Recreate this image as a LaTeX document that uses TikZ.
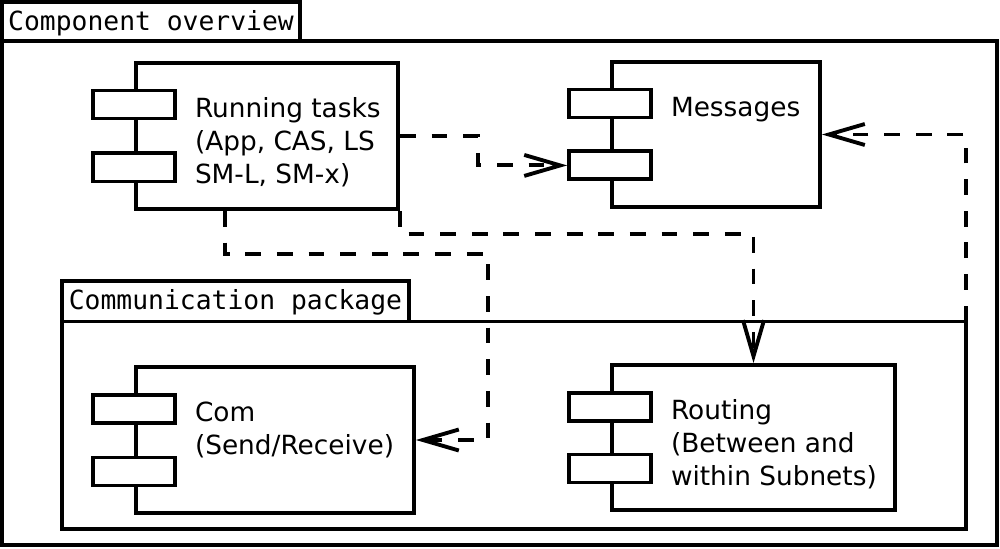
\documentclass[tikz,border=0pt]{standalone}
\usepackage{fontspec}
\setmainfont{DejaVu Sans}
\setmonofont{DejaVu Sans Mono}
\usepackage{tikz}
\usetikzlibrary{positioning,calc,arrows.meta}

\begin{document}
\begin{tikzpicture}[
    line width=2.2pt,
    frame/.style={draw, inner sep=0pt, outer sep=0pt},
    tab/.style={draw, anchor=south west, inner xsep=0pt, inner ysep=4pt, outer sep=0pt,
        text height=12pt, text depth=2pt,
        font=\ttfamily\fontsize{15}{18}\selectfont},
    compbox/.style={draw, inner sep=0pt},
    plug/.style={draw, fill=white, inner sep=0pt, minimum width=1.64cm, minimum height=0.56cm},
    comptext/.style={anchor=north west, align=left, inner sep=0pt,
        font=\fontsize{15}{18.8}\selectfont},
    dep/.style={dash pattern=on 9pt off 9pt, -{Straight Barb[length=0.72cm, width=0.42cm]}}
]
    \useasboundingbox (0,0) rectangle (20,10.96);

    % outer frame
    \node[frame, minimum width=19.9cm, minimum height=10.08cm] (overview) at (9.99,5.10) {};
    \node[tab, minimum width=5.96cm] (overviewtab) at (overview.north west) {Component overview};

    % inner package
    \node[frame, minimum width=18.08cm, minimum height=4.15cm] (commpkg) at (10.28,2.455) {};
    \node[tab, minimum width=6.94cm, inner ysep=4.6pt] (commpkgtab) at (commpkg.north west) {Communication package};

    % components
    \node[compbox, minimum width=5.24cm, minimum height=2.92cm] (tasks) at (5.34,8.24) {};
    \node[plug] (tasksA) at ($(tasks.north west)+(0,-0.87)$) {};
    \node[plug] (tasksB) at ($(tasks.south west)+(0,0.87)$) {};
    \node[comptext] (tasksT) at ($(tasks.north west)+(1.18,-0.62)$) {\strut Running tasks\\(App, CAS, LS\\SM-L, SM-x)};

    \node[compbox, minimum width=4.16cm, minimum height=2.9cm] (msgs) at (14.32,8.27) {};
    \node[plug] (msgsA) at ($(msgs.north west)+(0,-0.87)$) {};
    \node[plug] (msgsB) at ($(msgs.south west)+(0,0.87)$) {};
    \node[comptext] (msgsT) at ($(msgs.north west)+(1.18,-0.62)$) {\strut Messages};

    \node[compbox, minimum width=5.56cm, minimum height=2.92cm] (com) at (5.5,2.16) {};
    \node[plug] (comA) at ($(com.north west)+(0,-0.87)$) {};
    \node[plug] (comB) at ($(com.south west)+(0,0.87)$) {};
    \node[comptext] (comT) at ($(com.north west)+(1.18,-0.62)$) {\strut Com\\(Send/Receive)};

    \node[compbox, minimum width=5.66cm, minimum height=2.9cm] (routing) at (15.07,2.21) {};
    \node[plug] (routingA) at ($(routing.north west)+(0,-0.87)$) {};
    \node[plug] (routingB) at ($(routing.south west)+(0,0.87)$) {};
    \node[comptext] (routingT) at ($(routing.north west)+(1.18,-0.62)$) {\strut Routing\\(Between and\\within Subnets)};

    % dependencies
    \draw[dep] (tasks.east) -- ++(1.56,0) |- (msgsB.west);
    \draw[dep] ($(tasks.south west)+(1.82,0)$) -- ++(0,-0.86) -| ([xshift=1.44cm]com.east) -- (com.east);
    \draw[dep] (tasks.south east) -- ++(0,-0.46) -| (routing.north);
    \draw[dep] (commpkg.north east) |- (msgs.east);
\end{tikzpicture}
\end{document}
